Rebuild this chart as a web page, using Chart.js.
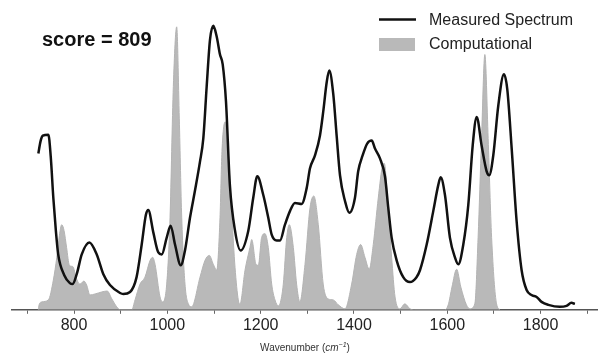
<!DOCTYPE html>
<html>
<head>
<meta charset="utf-8">
<script src="https://cdn.jsdelivr.net/npm/chart.js@4.4.1/dist/chart.umd.min.js"></script>
<style>
  html, body { margin: 0; padding: 0; background: #fff; }
  #wrap { width: 598px; height: 353px; position: relative; }
</style>
</head>
<body>
<div id="wrap"><canvas id="spectrum"></canvas></div>
<script>
// Measured IR spectrum (black line)
const measuredWavenumber = [723.5, 728, 733, 745, 750, 755.6, 761, 766, 779, 791, 797, 805.7, 816.5, 832.8, 848.6, 862.8, 877, 898.6, 905.6, 920,
  934, 945, 954, 959, 970, 980.6, 988, 998.6, 1007, 1016.4, 1028.6, 1037.8, 1048.5, 1059, 1070, 1077, 1084.3, 1091.4, 1098.5, 1105.8,
  1112.8, 1118.6, 1125.7, 1134, 1145, 1157, 1173.5, 1184, 1192.8, 1205.6, 1216.3, 1223.6, 1234.3, 1241.4, 1252, 1263, 1273.5, 1287.8, 1298.6, 1305.7,
  1316.4, 1327, 1334, 1341.5, 1347, 1355.6, 1363, 1370, 1380.7, 1390, 1402, 1409, 1418.5, 1428.3, 1438, 1445, 1455.7, 1466.4, 1473.5, 1480.7,
  1491.4, 1505.6, 1520, 1534, 1541.4, 1555.8, 1570, 1580.6, 1585.7, 1595, 1605.6, 1616.4, 1623.5, 1634.3, 1645, 1654.4, 1663, 1673.5, 1684.3, 1690,
  1698.5, 1709.2, 1721.4, 1728.5, 1738, 1748.5, 1759.3, 1770, 1780.6, 1791.4, 1802, 1816.6, 1841, 1855.6, 1866, 1873.5];
const measuredIntensity = [158, 170, 176, 177, 155, 113, 80, 56, 35, 27, 26, 36, 56, 68, 56, 36, 25, 17, 16, 18,
  33, 66, 96, 101, 78, 58, 56, 73, 85, 66, 45, 60, 93, 120, 150, 173, 226, 273, 287, 276,
  258, 248, 210, 126, 80, 60, 80, 113, 135, 116, 93, 76, 70, 70, 86, 100, 108, 107, 123, 143,
  156, 176, 200, 230, 242, 218, 175, 136, 110, 98, 113, 140, 156, 168, 171, 163, 153, 135, 103, 73,
  50, 33, 28, 33, 40, 66, 100, 126, 134, 116, 73, 53, 46, 66, 106, 166, 195, 166, 140, 136,
  156, 206, 238, 223, 163, 90, 40, 20, 15, 13, 8, 5, 3, 4, 7, 6];

// Computed spectrum (grey fill)
const computedWavenumber = [723.5, 724, 730.8, 745, 755.6, 763, 768.5, 773.6, 778.6, 784, 790, 795, 798.5, 804, 813, 821, 827, 834, 845, 859,
  871, 881, 891.5, 898.6, 923.6, 930.7, 941.4, 952, 963, 968.6, 973.6, 984.3, 990, 998.6, 1005.7, 1012.8, 1020, 1025.6, 1030.8, 1037.8,
  1045, 1052, 1070, 1080.7, 1090, 1098.5, 1105.8, 1112.8, 1117, 1124, 1130, 1138.5, 1145, 1152, 1155.7, 1166.4, 1177, 1180.8, 1190, 1195,
  1202, 1209, 1216.3, 1223.6, 1230.7, 1237.8, 1241.4, 1248.5, 1255.8, 1261.4, 1270, 1277, 1284, 1295, 1305.7, 1314, 1323.5, 1334, 1344.8, 1355.6,
  1366.3, 1380.7, 1395, 1405.8, 1414.3, 1423.5, 1432.7, 1441.3, 1452, 1461.4, 1465, 1473, 1480.7, 1488, 1498.5, 1509, 1520, 1530, 1595, 1602,
  1610, 1620, 1629, 1641, 1648.5, 1659, 1666, 1673.4, 1680.5, 1687.6, 1695, 1705.6, 1713];
const computedIntensity = [0, 3, 8, 10, 30, 53, 75, 86, 80, 63, 45, 44, 43, 33, 26, 29, 25, 15, 16, 18,
  19, 11, 3, 0, 0, 10, 26, 33, 50, 53, 46, 13, 8, 26, 93, 226, 286, 193, 93, 26,
  6, 3, 33, 50, 55, 46, 40, 93, 160, 190, 160, 93, 43, 10, 6, 40, 63, 71, 46, 45,
  73, 77, 63, 26, 10, 4, 6, 26, 73, 86, 63, 26, 8, 46, 103, 115, 86, 26, 11, 10,
  5, 1, 26, 56, 66, 53, 41, 66, 113, 146, 148, 103, 53, 13, 1, 6, 1, 0, 0, 5,
  23, 41, 23, 5, 1, 6, 73, 173, 258, 173, 73, 6, 0];

const scoreText = 'score = 809';
const xTicksLabelled = [800, 1000, 1200, 1400, 1600, 1800];

const FONT = '"Liberation Sans", Arial, sans-serif';

// legend, score and axis title are painted by hand
const overlayPlugin = {
  id: 'overlay',
  afterDraw(chart) {
    const ctx = chart.ctx;
    const ds = chart.data.datasets;
    ctx.save();

    // score
    ctx.fillStyle = '#111';
    ctx.font = 'bold 20px ' + FONT;
    ctx.textBaseline = 'alphabetic';
    ctx.fillText(scoreText, 42, 46);

    // legend
    ctx.strokeStyle = ds[0].borderColor;
    ctx.lineWidth = 2.5;
    ctx.beginPath();
    ctx.moveTo(379, 19.5);
    ctx.lineTo(416, 19.5);
    ctx.stroke();
    ctx.fillStyle = ds[1].backgroundColor;
    ctx.fillRect(379, 38, 36, 13);
    ctx.fillStyle = '#222';
    ctx.font = '16px ' + FONT;
    ctx.textBaseline = 'middle';
    ctx.fillText(ds[0].label, 429, 20.5);
    ctx.fillText(ds[1].label, 429, 44.5);

    // x axis title: Wavenumber (cm⁻¹)
    const a = chart.chartArea;
    const parts = [
      { t: 'Wavenumber (', f: '10px ' + FONT },
      { t: 'cm', f: 'italic 10px ' + FONT },
      { t: '\u22121', f: 'italic 7px ' + FONT, up: 4 },
      { t: ')', f: '10px ' + FONT }
    ];
    let w = 0;
    parts.forEach(p => { ctx.font = p.f; w += ctx.measureText(p.t).width; });
    let x = (a.left + a.right) / 2 - w / 2;
    ctx.fillStyle = '#333';
    ctx.textBaseline = 'alphabetic';
    parts.forEach(p => {
      ctx.font = p.f;
      ctx.fillText(p.t, x, 351 - (p.up || 0));
      x += ctx.measureText(p.t).width;
    });
    ctx.restore();
  }
};

const ctx = document.getElementById('spectrum').getContext('2d');
new Chart(ctx, {
  type: 'line',
  data: {
    datasets: [
      {
        label: 'Measured Spectrum',
        data: measuredWavenumber.map((x, i) => ({ x, y: measuredIntensity[i] })),
        borderColor: '#111111',
        borderWidth: 2.5,
        pointRadius: 0,
        cubicInterpolationMode: 'monotone',
        fill: false
      },
      {
        label: 'Computational',
        data: computedWavenumber.map((x, i) => ({ x, y: computedIntensity[i] })),
        borderColor: '#b4b4b4',
        backgroundColor: '#b9b9b9',
        borderWidth: 1,
        pointRadius: 0,
        cubicInterpolationMode: 'monotone',
        fill: 'origin'
      }
    ]
  },
  options: {
    responsive: true,
    maintainAspectRatio: false,
    animation: false,
    layout: { padding: { left: 12, right: 0, top: 13, bottom: 16 } },
    plugins: { legend: { display: false }, tooltip: { enabled: false } },
    scales: {
      x: {
        type: 'linear',
        min: 667,
        max: 1923,
        border: { display: true, color: '#555', width: 1.5 },
        grid: { drawOnChartArea: false, drawTicks: true, tickLength: 4, color: '#666' },
        ticks: {
          stepSize: 100,
          includeBounds: false,
          autoSkip: false,
          maxRotation: 0,
          padding: 2,
          color: '#222',
          font: { family: FONT, size: 16, lineHeight: 1.2 },
          callback: v => xTicksLabelled.includes(v) ? String(v) : ''
        }
      },
      y: { display: false, min: 0, max: 300 }
    }
  },
  plugins: [overlayPlugin]
});
</script>
</body>
</html>
